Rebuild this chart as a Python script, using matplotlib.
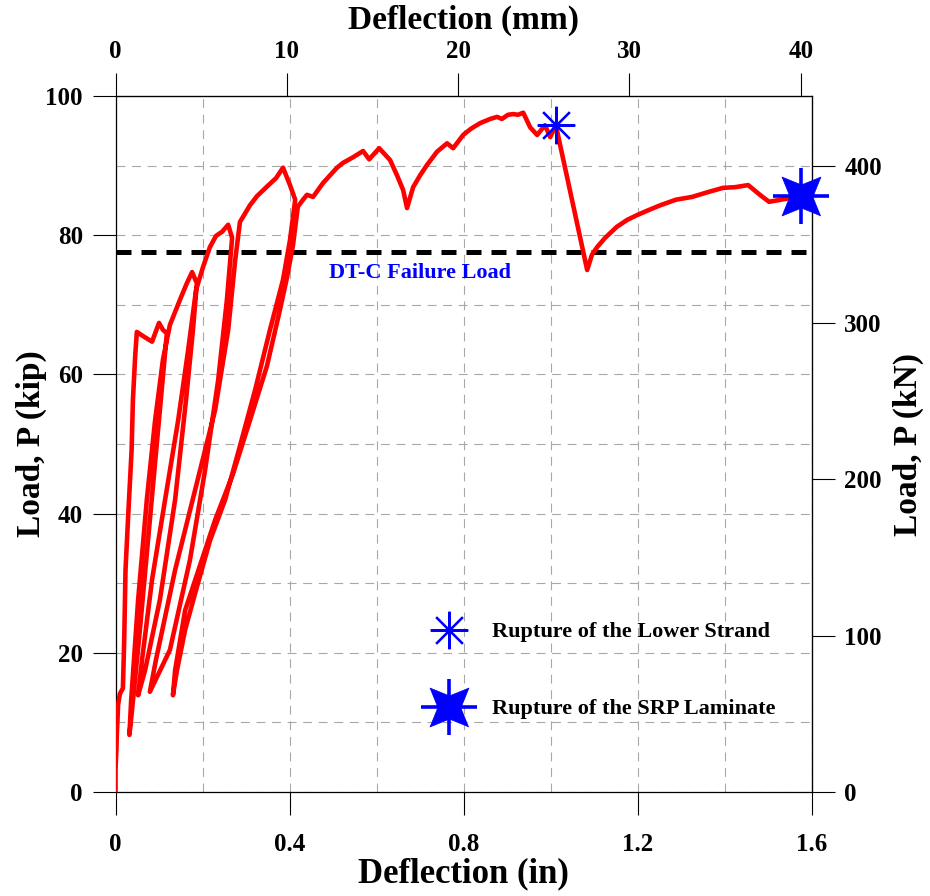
import numpy as np
import matplotlib
matplotlib.use("Agg")
import matplotlib.pyplot as plt
from matplotlib.path import Path

plt.rcParams['font.family'] = ['Liberation Serif', 'DejaVu Serif']
plt.rcParams['font.weight'] = 'bold'

# load-deflection record (deflection in, load kip)
defl = [0.000, 0.000, 0.002, 0.003, 0.006, 0.010, 0.017,
        0.020, 0.023, 0.029, 0.037, 0.040, 0.045, 0.049,
        0.066, 0.084, 0.100, 0.109, 0.118,
        0.102, 0.079, 0.056, 0.038, 0.032,
        0.036, 0.052, 0.072, 0.091, 0.109, 0.125, 0.132, 0.148, 0.164, 0.176,
        0.187, 0.178, 0.162, 0.137, 0.102, 0.068, 0.052,
        0.061, 0.084, 0.114, 0.144, 0.167, 0.185, 0.201, 0.217, 0.231, 0.245, 0.259,
        0.268, 0.256, 0.236, 0.206, 0.171, 0.125, 0.079,
        0.093, 0.137, 0.183, 0.229, 0.259, 0.275, 0.286, 0.309, 0.325, 0.350, 0.369, 0.385,
        0.401, 0.413, 0.401, 0.385, 0.355, 0.321, 0.286, 0.252, 0.217, 0.185, 0.160, 0.141, 0.132,
        0.137, 0.160, 0.194, 0.229, 0.270, 0.309, 0.348, 0.378, 0.394, 0.408, 0.419,
        0.431, 0.440, 0.454, 0.477, 0.509, 0.523, 0.546, 0.569, 0.583, 0.606, 0.631,
        0.647, 0.661, 0.670, 0.684, 0.700, 0.716, 0.739, 0.762, 0.776, 0.799, 0.817,
        0.838, 0.861, 0.877, 0.888, 0.902, 0.914, 0.925, 0.937, 0.953, 0.969, 0.987,
        0.999, 1.012,
        1.084, 1.095, 1.107, 1.125, 1.152, 1.176, 1.199, 1.225, 1.252, 1.288, 1.325,
        1.362, 1.396, 1.424, 1.454, 1.481, 1.502, 1.529, 1.575]
load = [0.0, 3.2, 6.0, 8.2, 12.5, 14.1, 14.9,
        21.8, 31.9, 39.5, 49.1, 56.3, 62.4, 66.1,
        65.4, 64.7, 67.4, 66.4, 65.9,
        54.9, 39.1, 23.3, 11.8, 8.2,
        13.2, 27.6, 42.0, 53.4, 62.1, 67.1, 68.2, 70.7, 73.1, 74.7,
        73.1, 66.4, 56.3, 42.0, 27.6, 17.5, 13.9,
        19.0, 30.5, 42.0, 53.4, 63.5, 72.1, 75.4, 78.3, 79.9, 80.5, 81.5,
        79.6, 70.7, 59.2, 46.3, 33.3, 20.4, 14.4,
        19.0, 31.9, 43.4, 54.9, 66.4, 76.4, 81.9, 84.3, 85.6, 87.1, 88.2, 89.7,
        87.2, 85.1, 79.3, 73.6, 66.4, 57.8, 49.7, 42.0, 36.1, 29.0, 23.3, 17.4, 13.9,
        17.5, 26.1, 32.5, 39.1, 45.7, 53.4, 61.2, 69.3, 73.9, 78.6, 84.1,
        85.1, 85.8, 85.5, 87.5, 89.7, 90.4, 91.2, 92.1, 90.9, 92.5, 90.8,
        88.6, 86.5, 83.9, 86.9, 88.6, 90.1, 92.0, 93.2, 92.5, 94.4, 95.3,
        96.1, 96.7, 97.0, 96.7, 97.3, 97.4, 97.3, 97.6, 95.5, 94.4, 95.8,
        94.1, 95.8,
        75.0, 77.2, 78.3, 79.6, 81.2, 82.2, 82.9, 83.6, 84.3, 85.1, 85.5,
        86.2, 86.8, 86.9, 87.2, 85.8, 84.8, 85.1, 85.6]

strand_rupture = (1.012, 95.8)
srp_rupture = (1.575, 85.6)
dtc_failure = 77.6

x_ticks = [0, 0.4, 0.8, 1.2, 1.6]
x_tick_labels = ['0', '0.4', '0.8', '1.2', '1.6']
y_ticks = [0, 20, 40, 60, 80, 100]
mm_ticks = [0, 10, 20, 30, 40]
kn_ticks = [0, 100, 200, 300, 400]

# 4-point filled star used for the laminate rupture marker
ang = np.arange(8) * np.pi / 4
rad = np.where(np.arange(8) % 2 == 0, 0.42, 1.0)
star4 = Path(np.column_stack([rad * np.cos(ang), rad * np.sin(ang)]))


def srp_marker(ax, x, y, **kw):
    ax.plot(x, y, marker='+', ms=40, mew=2.6, color='blue', ls='none', **kw)
    ax.plot(x, y, marker=star4, ms=28, mfc='blue', mec='blue', mew=0.5, ls='none', **kw)


fig = plt.figure(figsize=(9.3, 8.96), dpi=100)
ax = fig.add_axes([115.5 / 930, 104 / 896, 696.2 / 930, 696 / 896])

ax.set_xlim(0, 1.6)
ax.set_ylim(0, 100)
ax.set_xticks(x_ticks)
ax.set_xticklabels(x_tick_labels)
ax.set_yticks(y_ticks)
ax.set_xticks(np.arange(0.2, 1.6, 0.2), minor=True)
ax.set_yticks(np.arange(10, 100, 10), minor=True)
ax.tick_params(which='major', direction='out', length=16.5, width=0.8, labelsize=18, pad=7)
ax.tick_params(axis='x', which='major', pad=13)
ax.tick_params(which='minor', length=0)
ax.grid(True, which='both', color='#a8a8a8', lw=0.8, ls=(0, (8, 6)))
ax.set_axisbelow(True)
for s in ax.spines.values():
    s.set_linewidth(0.9)

ax.axhline(dtc_failure, color='black', lw=3.6, ls=(0, (3, 2)), zorder=2)
ax.text(0.70, dtc_failure - 3.0, 'DT-C Failure Load', color='blue', fontsize=16,
        ha='center', va='center', fontweight='bold')

ax.plot(defl, load, color='red', lw=3.3, solid_joinstyle='round', zorder=3)

ax.plot(*strand_rupture, marker=(8, 2, 0), ms=27, mew=1.6, color='blue', ls='none', zorder=4)
srp_marker(ax, *srp_rupture, zorder=4, clip_on=False)

# legend drawn by hand
ax.plot(0.479, 0.233, marker=(8, 2, 0), ms=27, mew=1.6, color='blue', transform=ax.transAxes)
srp_marker(ax, 0.479, 0.122, transform=ax.transAxes)
ax.text(0.541, 0.230, 'Rupture of the Lower Strand', transform=ax.transAxes,
        fontsize=16, va='center', ha='left', fontweight='bold')
ax.text(0.541, 0.119, 'Rupture of the SRP Laminate', transform=ax.transAxes,
        fontsize=16, va='center', ha='left', fontweight='bold')

ax.set_xlabel('Deflection (in)', fontsize=25, fontweight='bold', labelpad=1)
ax.set_ylabel('Load, P (kip)', fontsize=24, fontweight='bold', labelpad=-1)

top = ax.secondary_xaxis('top', functions=(lambda v: v * 25.4, lambda v: v / 25.4))
top.set_xticks(mm_ticks)
top.tick_params(direction='out', length=16.5, width=0.8, labelsize=18, pad=7)
top.set_xlabel('Deflection (mm)', fontsize=24, fontweight='bold', labelpad=8)

right = ax.secondary_yaxis('right', functions=(lambda v: v * 4.448, lambda v: v / 4.448))
right.set_yticks(kn_ticks)
right.tick_params(direction='out', length=16.5, width=0.8, labelsize=18, pad=7)
right.set_ylabel('Load, P (kN)', fontsize=24, fontweight='bold', labelpad=8)

fig.savefig('out.png', dpi=100)
